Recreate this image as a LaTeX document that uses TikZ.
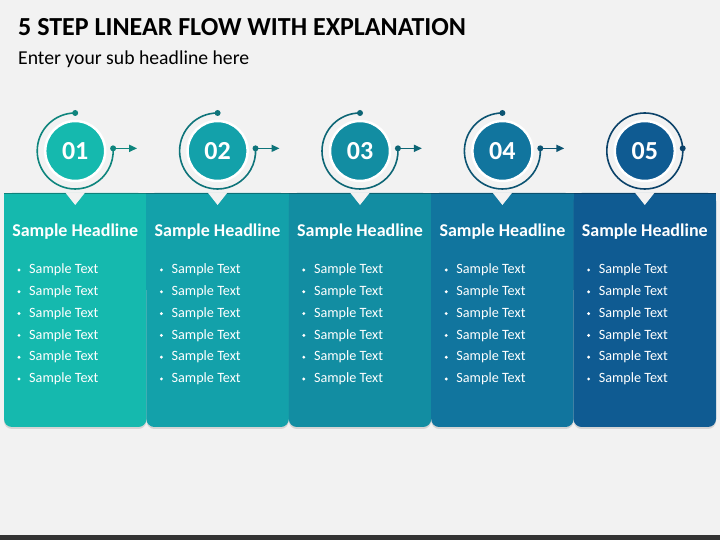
\documentclass[tikz,border=0pt]{standalone}
\usepackage{fontspec}
\setmainfont{Carlito}
\usetikzlibrary{arrows.meta, positioning, calc, shadows}

\definecolor{bggrey}{RGB}{242,242,242}
\definecolor{bardark}{RGB}{51,51,51}
\definecolor{stepA}{RGB}{21,185,174}
\definecolor{stepB}{RGB}{19,161,170}
\definecolor{stepC}{RGB}{18,141,162}
\definecolor{stepD}{RGB}{17,117,158}
\definecolor{stepE}{RGB}{15,91,146}

\tikzset{
  numcircle/.style={circle, fill=#1, draw=white, line width=2.5pt, minimum size=60pt,
    inner sep=0pt, text=white, font=\fontsize{26}{30}\selectfont\bfseries},
  ringline/.style={draw=#1!72!black, line width=1.6pt},
  headtext/.style={text=white, font=\fontsize{18}{21}\selectfont\bfseries},
  itemtext/.style={text=white, anchor=west, inner sep=0pt, font=\fontsize{14.2}{16}\selectfont},
  stepbox/.style={fill=#1, rounded corners=8pt,
    drop shadow={shadow xshift=0pt, shadow yshift=-2pt, opacity=0.25}}
}

\begin{document}
\begin{tikzpicture}[x=1pt, y=1pt]
  % page and bottom bar
  \fill[bggrey] (0,0) rectangle (720,540);
  \fill[bardark] (0,0) rectangle (720,5);
  \useasboundingbox (0,0) rectangle (720,540);

  % headings
  \node[anchor=base west, inner sep=0pt, font=\fontsize{26}{30}\selectfont\bfseries] (title) at (18,504)
    {5 STEP LINEAR FLOW WITH EXPLANATION};
  \node[anchor=base west, inner sep=0pt, font=\fontsize{19.7}{23}\selectfont] (subtitle) at (18,475)
    {Enter your sub headline here};

  % columns
  \foreach \i/\col in {0/stepA, 1/stepB, 2/stepC, 3/stepD, 4/stepE} {
    \pgfmathsetmacro{\xl}{4+142.4*\i}
    \pgfmathsetmacro{\xr}{\xl+142.4}
    \pgfmathsetmacro{\xc}{\xl+71.2}
    \fill[stepbox=\col] (\xl,113) rectangle (\xr,347);
    \fill[\col] (\xl,250) rectangle (\xr,347);
    \draw[\col!70!black, line width=1.2pt] (\xl,346.4) -- (\xr,346.4);
    \fill[bggrey] (\xc-10,347.6) -- (\xc+10,347.6) -- (\xc,335) -- cycle;
    \node[headtext] (head\i) at (\xc,308) {Sample Headline};
    \foreach \j in {0,...,5} {
      \fill[white] (\xl+15,270-21.8*\j) circle (1.6pt);
      \node[itemtext] (item\i\j) at (\xl+25,270-21.8*\j) {Sample Text};
    }
    \node[numcircle=\col] (num\i) at (\xc,389) {0\the\numexpr\i+1\relax};
  }

  % rings with dots and arrows
  \foreach \i/\col in {0/stepA, 1/stepB, 2/stepC, 3/stepD} {
    \coordinate (top\i) at ($(num\i)+(90:38)$);
    \coordinate (dot\i) at ($(num\i)+(4:38)$);
    \coordinate (tip\i) at ($(dot\i)+(24,0)$);
    \draw[ringline=\col] (top\i) arc[start angle=90, end angle=364, radius=38];
    \fill[\col!72!black] (top\i) circle (3pt) (dot\i) circle (3pt);
    \draw[ringline=\col, -{Triangle[length=8pt, width=7pt]}] (dot\i) -- (tip\i);
  }
  \draw[ringline=stepE] (num4) circle (38);
  \coordinate (dot4) at ($(num4)+(4:38)$);
  \fill[stepE!72!black] (dot4) circle (3pt);
\end{tikzpicture}
\end{document}
